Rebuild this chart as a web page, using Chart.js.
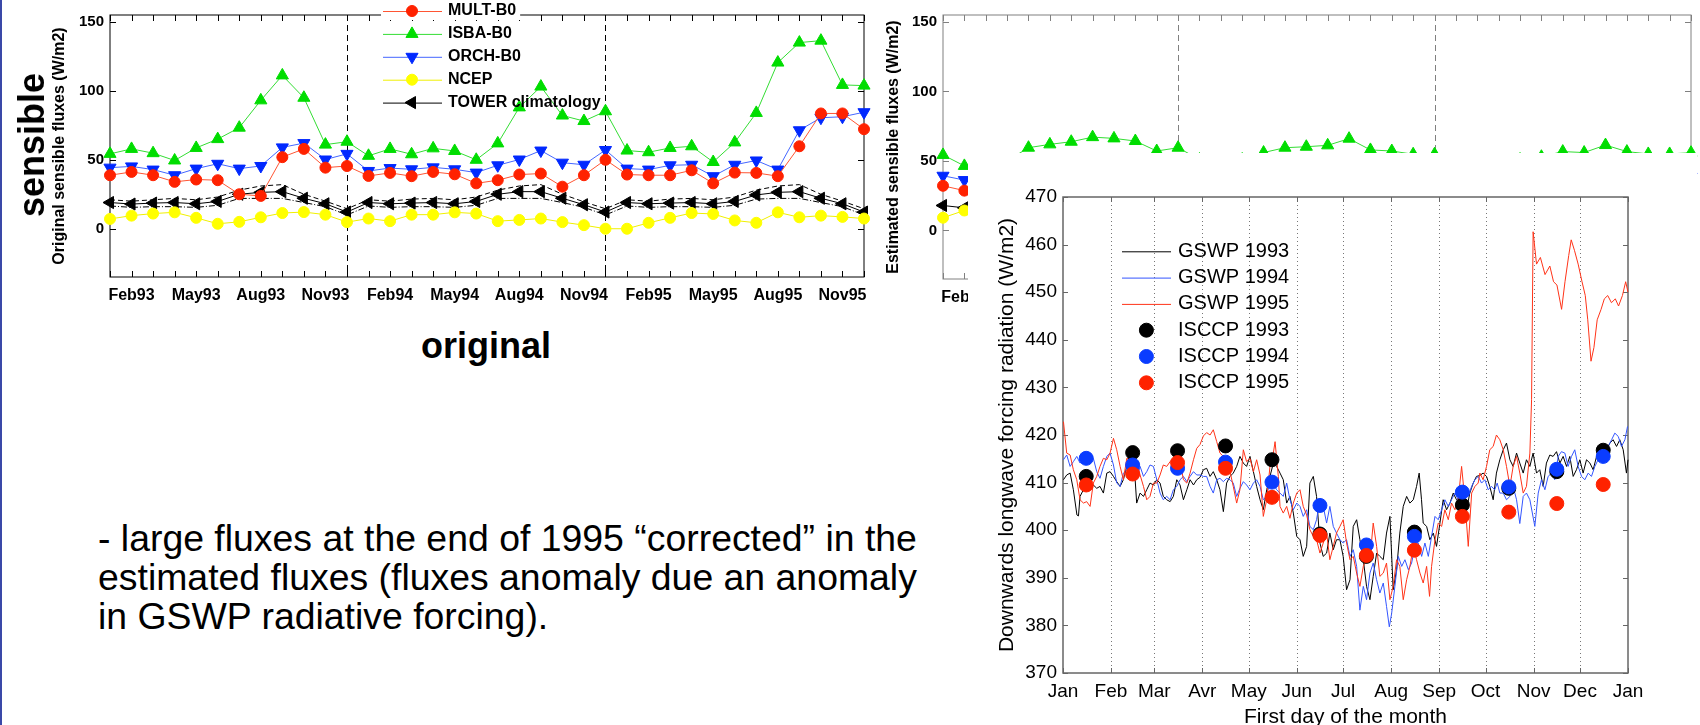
<!DOCTYPE html>
<html>
<head>
<meta charset="utf-8">
<script src="https://cdn.jsdelivr.net/npm/chart.js@4.4.0/dist/chart.umd.min.js"></script>
<style>
  html, body { margin: 0; padding: 0; background: #fff; }
  #page { position: relative; width: 1700px; height: 725px; overflow: hidden; background: #fff;
          font-family: "Liberation Sans", Arial, sans-serif; color: #000; }
  .abs { position: absolute; }
  #border { left: 0; top: 0; width: 2px; height: 725px; background: #3a48a8; }
  #cOrig { left: 0; top: 0; }
  #cEst { left: 870px; top: 0; }
  #radWrap { left: 968px; top: 153px; width: 729px; height: 572px; background: #fff; overflow: hidden; }
  #sensible { left: 32px; top: 145px; transform: translate(-50%, -50%) rotate(-90deg);
              font-weight: bold; font-size: 36px; line-height: 36px; white-space: nowrap; }
  #original { left: 421px; top: 328px; font-weight: bold; font-size: 36px; line-height: 36px; white-space: nowrap; }
  #note { left: 98px; top: 519px; font-size: 37.4px; line-height: 39px; white-space: nowrap; }
</style>
</head>
<body>
<div id="page">
  <canvas id="cOrig" class="abs" width="880" height="310"></canvas>
  <canvas id="cEst" class="abs" width="830" height="310"></canvas>
  <div id="radWrap" class="abs"><canvas id="cRad" width="729" height="577"></canvas></div>
  <div id="sensible" class="abs">sensible</div>
  <div id="original" class="abs">original</div>
  <div id="note" class="abs">- large fluxes at the end of 1995 “corrected” in the<br>estimated fluxes (fluxes anomaly due an anomaly<br>in GSWP radiative forcing).</div>
  <div id="border" class="abs"></div>
</div>
<script>
// ---- monthly sensible fluxes, Jan93 .. Dec95 ----
const months = ['Jan93','Feb93','Mar93','Apr93','May93','Jun93','Jul93','Aug93','Sep93','Oct93','Nov93','Dec93',
                'Jan94','Feb94','Mar94','Apr94','May94','Jun94','Jul94','Aug94','Sep94','Oct94','Nov94','Dec94',
                'Jan95','Feb95','Mar95','Apr95','May95','Jun95','Jul95','Aug95','Sep95','Oct95','Nov95','Dec95'];
const fluxTicks = [0, 50, 100, 150];
const yearBreaks = [11, 23];

const multB0 = [38.8,41.2,38.8,34,35.7,35.2,25,23.8,51.9,57.9,44.3,45.5,38.3,40.5,38.1,41.2,39.5,32.9,
                35.2,39.3,40,30.5,38.8,50,39.3,38.8,38.8,42.4,32.9,40.7,40.5,38.1,59.8,83.6,83.6,72.2];
const isbaB0 = [54.3,57.9,54.8,49.5,58.6,65,73.3,93.1,111.2,95,61,63.1,52.9,57.9,54,58.3,56.4,50,
                61.9,88,103.1,82.1,78.1,85.2,56.7,55.5,58.6,59.8,48.4,62.6,84,120.5,135,136.4,104.3,103.8];
const orchB0 = [44.3,45.2,42.9,38.8,43.6,47.1,43.6,45.5,59,62.1,50.2,54.3,41.9,44,43.1,44.5,43.1,40.7,
                46,50.2,56.7,47.9,46.4,57.1,43.6,42.9,46,46.4,38.1,46.4,49.5,42.9,71.4,80.5,81.2,84.5];
const ncep   = [7.1,9.5,11,11.9,7.9,3.6,5,8.3,11.4,12.1,10.2,4.8,7.4,5.5,10.2,10.2,11.9,11,
                5.5,6.4,7.4,4.8,2.6,0,0,4.3,7.9,11.4,10.7,6,4.3,11.9,8.3,9.5,8.6,7.4];
const tower  = [19,17.9,18.6,19,18.1,19.8,25,26.4,26.9,22.1,18.1,12.1,19,18.1,18.6,19,18.1,19.8,
                25,26.9,26.9,22.1,17.4,12.1,19,18.1,18.6,19,18.1,19.8,24.5,26.4,26.9,22.1,18.1,12.1];
const towerHigh = [21,20,21,22,21,23,28,31,32,25,20,14.5,21,20,21.5,22,21,23,28,31,32,25,19.5,14.5,
                   21,20,21.5,22,21,23,28,31,32,25,20,14.5];
const towerLow  = [16.5,15.5,16,16,15.5,17,22,22,22,19,16,10,16.5,15.5,16,16,15.5,17,22,22,22,19,15.5,10,
                   16.5,15.5,16,16,15.5,17,21.5,22,22,19,16,10];

// estimated fluxes: only the parts that are not hidden by the radiation panel
const estIsba  = [54.3,46.4,48,50,59.5,61.9,63.8,67.1,66.2,64.3,57.1,59.5,51,49,51,56,59.5,60.2,
                  61.2,66,57.9,57.1,54.8,54.8,50,48,50,51,53,56.7,56,61.4,56.7,55,55,55.9];
const estOrch  = [39.3,36.2,null,null,null,null,null,null,null,null,null,null,null,null,null,null,null,null,
                  null,null,null,null,null,null,null,null,null,null,null,null,null,null,null,null,null,38.6];
const estMult  = [32.1,28.6,null,null,null,null,null,null,null,null,null,null,null,null,null,null,null,null,
                  null,null,null,null,null,null,null,null,null,null,null,null,null,null,null,null,null,32];
const estNcep  = [9.1,14.3,null,null,null,null,null,null,null,null,null,null,null,null,null,null,null,null,
                  null,null,null,null,null,null,null,null,null,null,null,null,null,null,null,null,null,15];
const estTower = [17.9,16.2,null,null,null,null,null,null,null,null,null,null,null,null,null,null,null,null,
                  null,null,null,null,null,null,null,null,null,null,null,null,null,null,null,null,null,12.1];

// ---- downward longwave forcing, [day of year, W/m2] ----
const monthStart = [0,31,59,90,120,151,181,212,243,273,304,334,365];
const monthNames = ['Jan','Feb','Mar','Avr','May','Jun','Jul','Aug','Sep','Oct','Nov','Dec','Jan'];
const radTicks = [370,380,390,400,410,420,430,440,450,460,470];

const gswp1993 = [[0.3,410.6],[2.4,411.6],[4.6,412],[6.7,408.5],[9,403.2],[10,403],[11,407.1],[13.2,408.5],[15.3,409.2],[17.5,408.5],
  [19.6,409.5],[21.8,408.8],[23.9,409.2],[26.1,407.8],[28.3,412],[30.4,412.3],[32.6,411.3],[34.7,410.2],[36.9,409.2],[39,410.6],
  [41.2,413.4],[43.3,416.9],[45.5,416.2],[47.6,405.7],[49.8,407.8],[52,407.1],[54.1,408.5],[56.2,409.9],[58.4,409.5],[60.6,410.6],
  [62.7,409.9],[64.8,407.1],[67,406.4],[69.2,406],[71.3,407.1],[73.5,410.6],[75.6,409.5],[77.8,406.4],[80,408.5],[82.1,410.6],
  [84.3,409.5],[86.4,410.6],[88.5,411.1],[90.7,412.7],[92.8,413],[95,411.3],[97.1,412.3],[99.3,410.6],[101.4,408.5],[103.6,403.9],
  [105.7,409.9],[107.9,411.3],[110,412],[112.2,413.4],[114.3,415.5],[116.5,414.1],[118.6,413.4],[120.8,415.5],[123,412.3],[125.1,409.2],
  [127.3,406.4],[129.4,404.3],[131.6,408.5],[133.7,411.3],[135.9,414.1],[138,413.4],[140.2,412],[142.3,410.6],[144.5,405.7],[146.6,407.1],
  [148.8,403.6],[151,398.7],[153.1,398],[155.2,394.5],[157.4,396.6],[159.5,409.9],[161.7,411.3],[163.8,407.1],[166,397.3],[168.1,394.5],
  [170.3,395.2],[172.4,399.4],[174.6,395.9],[176.7,398],[178.9,398],[181,394.5],[183.2,387.5],[185.4,389.6],[187.5,400.8],[189.7,402.2],
  [191.8,398],[194,393.8],[196.1,388.2],[198.3,385.4],[200.4,390.3],[202.6,395.2],[204.7,394.5],[206.9,393.8],[209,399.4],[211.2,402.9],
  [213.3,387.5],[215.5,391.7],[217.6,399.4],[219.8,405],[222,407.1],[224.1,405.7],[226.3,406.4],[228.4,409.2],[230.1,412],[231.6,406.4],
  [232.7,401.5],[234.9,400.8],[237,398],[239.2,399.4],[241.3,396.6],[243.5,401.5],[245.6,406.4],[247.8,404.3],[250,405.7],[252.1,407.8],
  [254.2,406.4],[256.4,407.1],[258.5,406.4],[260.7,404.3],[262.8,407.8],[265,409.9],[267.1,411.3],[269.3,411.5],[271.4,412],[273.6,411.3],
  [275.7,409.2],[277.9,406.4],[280,412],[282.2,414.8],[284.4,416.9],[286.5,418.3],[288.7,414.8],[290.8,413.4],[293,416.2],[295.1,414.1],
  [297.3,412],[299.4,414.8],[301.6,413.4],[303.7,416.2],[305.9,412],[308,412.7],[310.2,409.2],[312.3,414.1],[314.5,415.8],[316.6,415.5],
  [318.8,416.5],[321,414.1],[323.1,415.5],[325.3,413.4],[327.4,415.5],[329.6,411.3],[331.7,412.7],[333.9,414.8],[336,412],[338.2,414.8],
  [340.4,414.1],[342.5,412.7],[344.7,415.5],[346.8,416.9],[349,417.6],[351.1,416.9],[353.3,418.3],[355.4,419],[357.6,417.6],[359.7,419],
  [361.9,416.9],[364,412],[365,414.8]];

const gswp1994 = [[0.3,414.8],[2.4,415.8],[4.6,413.4],[6.7,414.4],[8.9,415.5],[11,414.1],[13.2,414.8],[15.3,413.7],[17.5,414.8],[19.6,415.1],
  [21.8,412.3],[23.9,410.9],[26.1,413.4],[28.3,415.5],[30.4,416.2],[32.6,413.7],[34.7,409.9],[36.9,409.2],[39,412],[41.2,412.7],
  [43.3,414.8],[45.5,413.4],[47.6,410.6],[49.8,413.4],[52,411.3],[54.1,412.3],[56.2,413.7],[58.4,413.4],[60.6,410.6],[62.7,407.8],
  [64.8,406.4],[67,407.1],[69.2,406.4],[71.3,408.5],[73.5,409.2],[75.6,410.6],[77.8,411.3],[80,410.2],[82.1,411.3],[84.3,412.3],
  [86.4,411.6],[88.5,411.6],[90.7,411.3],[92.8,411.3],[95,409.2],[97.1,407.8],[99.3,410.6],[101.4,410.9],[103.6,410.2],[105.7,410.9],
  [107.9,410.6],[110,409.9],[112.2,407.1],[114.3,408.8],[116.5,410.2],[118.6,409.5],[120.8,408.5],[123,409.9],[125.1,410.6],[127.3,409.2],
  [129.4,406.4],[131.6,407.1],[133.7,410.6],[135.9,409.9],[138,408.5],[140.2,407.8],[142.3,407.1],[144.5,409.9],[146.6,406.4],[148.8,404.3],
  [151,405.7],[153.1,405],[155.2,402.9],[157.4,404.3],[159.5,400.8],[161.7,400.1],[163.8,402.2],[166,406.4],[168.1,405],[170.3,401.5],
  [172.4,405],[174.6,400.8],[176.7,399.4],[178.9,398],[181,397.3],[183.2,398],[185.4,394.5],[187.5,395.9],[189.7,392.4],[191.8,383.2],
  [194,388.2],[196.1,385.4],[198.3,391],[200.4,393.1],[202.6,389.6],[204.7,386.8],[206.9,388.9],[209,384],[210.8,379.7],[212.3,382.5],
  [214.4,388.2],[216.6,394.5],[218.8,392.4],[220.9,393.8],[223.1,391.7],[225.2,393.1],[227.4,396.6],[229.5,397.3],[231.7,394.5],[233.8,397.3],
  [236,394.5],[238.1,398.7],[240.3,402.9],[242.4,402.2],[244.6,404.3],[246.7,406.4],[248.9,405],[251,406.4],[253.2,407.8],[255.3,406.4],
  [257.5,408.5],[259.6,407.8],[261.8,407.1],[264,409.2],[266.1,410.6],[268.2,411.3],[270.4,409.9],[272.5,410.6],[274.7,408.5],[276.8,409.2],
  [278.9,408.5],[280.5,409.9],[282.2,407.8],[284.4,407.8],[286.5,406.4],[288.7,407.1],[290.8,409.2],[293,406.4],[295.1,401.4],[297.3,407.1],
  [299.4,407.8],[301.6,406.4],[304.8,400.8],[307,407.8],[309.1,410.6],[311.3,408.5],[313.4,411.3],[315.6,412],[317.7,410.6],[319.9,415.5],
  [322,416.5],[324.2,416.2],[326.3,413.4],[328.5,415.5],[330.6,416.9],[332.8,413.4],[335,411.3],[337.1,410.6],[339.3,412],[341.4,411.3],
  [343.6,413.4],[345.7,414.8],[347.9,415.5],[350,416.2],[352.2,417.6],[354.4,419],[356.5,420.4],[358.7,419.7],[360.8,417.6],[363,419],
  [364.7,421.8]];

const gswp1995 = [[0.3,422.8],[2.4,416.2],[4.6,415.8],[6.7,412.7],[8.9,410.6],[11,406.4],[13.2,405.7],[15.3,406],[17.5,405],[19.6,409.9],
  [21.8,411.3],[23.9,413.4],[26.1,415.1],[28.3,414.8],[30.4,416.2],[32.6,419.3],[34.7,416.9],[36.9,413.4],[39,410.6],[41.2,415.1],
  [43.3,414.8],[45.5,413],[47.6,414.1],[49.8,411.6],[52,409.2],[54.1,406.4],[56.2,407.1],[58.4,409.9],[60.6,409.9],[62.7,411.6],
  [64.8,413.7],[67,413.4],[69.2,414.4],[71.3,415.1],[73.5,413.4],[75.6,414.4],[77.8,410.6],[80,409.9],[82.1,412],[84.3,414.8],
  [86.4,417.2],[88.5,418],[90.7,419.8],[92.8,420.5],[95,420],[97.1,421.1],[99.3,418.6],[101.4,416.2],[103.6,415.5],[105.7,413.4],
  [107.9,412.3],[110,409.2],[112.2,405.7],[114.3,408.5],[116.5,416.9],[118.6,414.4],[120.8,415.1],[123,412.3],[125.1,414.8],[127.3,411.6],
  [129.4,402.9],[131.6,406.4],[133.7,413.4],[135.9,416.2],[137,418.6],[139.1,411.3],[140.2,405],[142.3,403.6],[144.5,405],[146.6,402.5],
  [148.8,405.7],[151,407.8],[153.1,408.5],[155.2,405],[157.4,403.2],[159.5,400.1],[161.7,398.7],[163.8,398],[166,395.2],[168.1,397.3],
  [170.3,399.4],[172.4,393.8],[174.6,396.6],[176.7,399.4],[178.9,400.8],[181,402.2],[183.2,397.3],[185.4,393.8],[187.5,394.5],[189.7,391],
  [191.8,388.2],[194,392.4],[196.1,393.8],[198.3,393.8],[200.4,401.5],[202.6,396.6],[204.7,390.3],[206.9,391],[209,393.1],[211.2,385.4],
  [213.3,388.2],[215.5,393.8],[217.6,392.4],[219.8,385.4],[222,389.6],[224.1,392.4],[226.3,396.6],[228.4,393.8],[230.6,391],[232.7,388.9],
  [234.9,392.4],[236.8,386.1],[238.1,392.4],[240.3,398],[242.4,401.5],[244.6,400.8],[246.7,404.3],[248.9,402.2],[251,405.7],[253.2,404.3],
  [255.3,406.4],[257.5,413.4],[259.6,406.4],[261.8,396.6],[264,407.8],[266.1,409.2],[268.2,409.9],[269.3,412],[271.4,410.6],[273.6,413.4],
  [275.7,416.9],[277.9,417.6],[280,420],[282.2,419],[284.4,416.9],[286.5,413.4],[288.7,409.2],[290.8,413.4],[293,415.5],[295.1,412],
  [297.3,407.8],[299.4,409.2],[301.6,416.2],[302.7,427.4],[303.7,462.7],[305.9,455.9],[308.4,457.3],[311.4,453.7],[314.5,455.5],[316.9,452.2],
  [319.1,451.5],[322.1,446.4],[324.3,452.2],[326.7,457.7],[328.3,461],[330.4,458.8],[332.8,455.9],[335.3,452.2],[337.4,449.3],[339,444.2],
  [341.1,435.5],[343,438.4],[345.1,444.2],[347.6,446.4],[349.7,448.6],[351.9,449.3],[354.3,447.8],[356.8,448.6],[358.9,447.1],[361.4,449.3],
  [363.5,452.2],[365,450]];

const isccpDays = [15,45,74,105,135,166,196,227,258,288,319,349];
const isccp1993 = [411.3,416.3,416.7,417.7,414.8,399.2,394.5,399.6,405.3,408.8,412.3,416.8];
const isccp1994 = [415.1,413.7,413,414.3,410.1,405.2,396.9,398.7,408,409.1,412.8,415.5];
const isccp1995 = [409.5,411.8,414.2,413,406.9,398.9,394.7,395.8,402.9,403.8,405.6,409.6];

const FONT = '"Liberation Sans", Arial, sans-serif';
Chart.defaults.font.family = FONT;
Chart.defaults.color = '#000';
Chart.defaults.animation = false;

// frame, inward ticks, vertical guide lines and a hand placed legend
const deco = {
  id: 'deco',
  beforeDatasetsDraw(chart, args, o) {
    const ctx = chart.ctx, a = chart.chartArea, xs = chart.scales.x, ys = chart.scales.y;
    ctx.save();
    ctx.lineWidth = 1;
    ctx.strokeStyle = o.vColor;
    ctx.setLineDash(o.vDash || []);
    (o.vLines || []).forEach(v => {
      const px = Math.round(xs.getPixelForValue(v)) + 0.5;
      ctx.beginPath(); ctx.moveTo(px, a.top); ctx.lineTo(px, a.bottom); ctx.stroke();
    });
    ctx.setLineDash([]);
    ctx.strokeStyle = o.frame;
    ctx.beginPath();
    xs.ticks.forEach(t => {
      const px = Math.round(xs.getPixelForValue(t.value)) + 0.5;
      ctx.moveTo(px, a.top); ctx.lineTo(px, a.top + o.tickLen);
      ctx.moveTo(px, a.bottom); ctx.lineTo(px, a.bottom - o.tickLen);
    });
    ys.ticks.forEach(t => {
      const py = Math.round(ys.getPixelForValue(t.value)) + 0.5;
      ctx.moveTo(a.left, py); ctx.lineTo(a.left + o.tickLen, py);
      ctx.moveTo(a.right, py); ctx.lineTo(a.right - o.tickLen, py);
    });
    ctx.stroke();
    ctx.lineWidth = o.frameWidth;
    ctx.strokeRect(a.left, a.top, a.width, a.height);
    ctx.restore();
  },
  afterDraw(chart, args, o) {
    const L = o.legend;
    if (!L) return;
    const ctx = chart.ctx;
    ctx.save();
    ctx.font = L.font;
    ctx.textBaseline = 'middle';
    let row = 0;
    chart.data.datasets.forEach(ds => {
      if (ds.noLegend) return;
      const y = L.y0 + row * L.dy;
      if (row === 0 && L.clearFirst) {
        ctx.fillStyle = '#fff';
        ctx.fillRect(L.x0 - 2, y - 9, L.tx - L.x0 + ctx.measureText(ds.label).width + 6, 18);
      }
      if (ds.showLine !== false) {
        ctx.strokeStyle = ds.borderColor; ctx.lineWidth = 1;
        ctx.beginPath(); ctx.moveTo(L.x0, y + 0.5); ctx.lineTo(L.x1, y + 0.5); ctx.stroke();
      }
      if (ds.pointRadius > 0) {
        ctx.fillStyle = ds.pointBackgroundColor; ctx.strokeStyle = ds.pointBorderColor;
        Chart.helpers.drawPoint(ctx, { pointStyle: ds.pointStyle, rotation: ds.pointRotation || 0,
                                       radius: ds.pointRadius, borderWidth: 1 }, L.mx, y);
      }
      ctx.fillStyle = '#000';
      ctx.fillText(ds.label, L.tx, y);
      row++;
    });
    ctx.restore();
  }
};
Chart.register(deco);

function fluxSet(label, data, color, lineColor, style, rot, r, extra) {
  return Object.assign({
    label: label, data: data, borderColor: lineColor, borderWidth: 1,
    pointBackgroundColor: color, pointBorderColor: color, pointStyle: style,
    pointRotation: rot, pointRadius: r, tension: 0, clip: false
  }, extra || {});
}

function makeFluxChart(canvasId, sets, opts) {
  return new Chart(document.getElementById(canvasId), {
    type: 'line',
    data: { labels: months, datasets: sets },
    options: {
      responsive: false, devicePixelRatio: 1, events: [],
      layout: { padding: { left: 0, right: opts.padRight, top: opts.top, bottom: 0 } },
      scales: {
        x: {
          type: 'category', offset: false,
          grid: { display: false, drawTicks: false }, border: { display: false },
          afterFit: s => { s.height = opts.xHeight; },
          ticks: { autoSkip: false, maxRotation: 0, padding: 9,
                   font: { size: 16, weight: 'bold' },
                   callback: (v, i) => (i % 3 === 1 ? months[i] : '') }
        },
        y: {
          min: -35, max: 155,
          grid: { display: false, drawTicks: false }, border: { display: false },
          afterBuildTicks: s => { s.ticks = fluxTicks.map(v => ({ value: v })); },
          afterFit: s => { s.width = opts.yWidth; },
          ticks: { padding: 6, font: { size: 15, weight: 'bold' } },
          title: { display: true, text: opts.yTitle, font: { size: 16, weight: 'bold' },
                   padding: { top: opts.titlePad, bottom: 0 } }
        }
      },
      plugins: {
        legend: { display: false }, tooltip: { enabled: false },
        deco: { frame: opts.frame, frameWidth: 1, tickLen: 6, vLines: yearBreaks,
                vColor: opts.frame, vDash: [6, 4], legend: opts.legend }
      }
    }
  });
}

const RED = '#ff2200', GREEN = '#00dd00', BLUE = '#0028ff', YEL = '#ffff00';

makeFluxChart('cOrig', [
  fluxSet('MULT-B0', multB0, RED, '#ff5533', 'circle', 0, 5.5),
  fluxSet('ISBA-B0', isbaB0, GREEN, '#33dd33', 'triangle', 0, 7),
  fluxSet('ORCH-B0', orchB0, BLUE, '#4466ff', 'triangle', 180, 7),
  fluxSet('NCEP', ncep, YEL, '#f0f000', 'circle', 0, 5.5),
  fluxSet('TOWER climatology', tower, '#000', '#000', 'triangle', -90, 7),
  fluxSet('high', towerHigh, '#000', '#000', 'circle', 0, 0, { noLegend: true, borderDash: [5, 3] }),
  fluxSet('low', towerLow, '#000', '#000', 'circle', 0, 0, { noLegend: true, borderDash: [6, 2, 1, 2] })
], { padRight: 16, top: 11, xHeight: 33, yWidth: 110, titlePad: 50,
     yTitle: 'Original sensible fluxes (W/m2)', frame: '#000',
     legend: { x0: 383, x1: 442, mx: 412, tx: 448, y0: 11, dy: 22.9,
               font: 'bold 16px ' + FONT, clearFirst: true } });

makeFluxChart('cEst', [
  fluxSet('MULT-B0', estMult, RED, '#ff5533', 'circle', 0, 5.5),
  fluxSet('ISBA-B0', estIsba, GREEN, '#33dd33', 'triangle', 0, 7),
  fluxSet('ORCH-B0', estOrch, BLUE, '#4466ff', 'triangle', 180, 7),
  fluxSet('NCEP', estNcep, YEL, '#f0f000', 'circle', 0, 5.5),
  fluxSet('TOWER climatology', estTower, '#000', '#000', 'triangle', -90, 7)
], { padRight: 4, top: 13, xHeight: 31, yWidth: 73, titlePad: 13.7,
     yTitle: 'Estimated sensible fluxes (W/m2)', frame: '#808080', legend: null });

// ---- radiation panel ----
const xy = arr => arr.map(p => ({ x: p[0], y: p[1] }));
const dots = vals => vals.map((v, i) => ({ x: isccpDays[i], y: v }));
const gswpSet = (label, arr, color, order) => ({
  label: label, data: xy(arr), borderColor: color, borderWidth: 1, pointRadius: 0,
  tension: 0, order: order, clip: false
});
const isccpSet = (label, vals, color, order) => ({
  label: label, data: dots(vals), showLine: false, pointRadius: 7, pointStyle: 'circle',
  pointBackgroundColor: color, pointBorderColor: color, order: order, clip: false
});

new Chart(document.getElementById('cRad'), {
  type: 'line',
  data: { datasets: [
    gswpSet('GSWP 1993', gswp1993, '#000000', 6),
    gswpSet('GSWP 1994', gswp1994, '#3355ff', 5),
    gswpSet('GSWP 1995', gswp1995, '#ff3318', 4),
    isccpSet('ISCCP 1993', isccp1993, '#000000', 3),
    isccpSet('ISCCP 1994', isccp1994, '#0a3cff', 2),
    isccpSet('ISCCP 1995', isccp1995, '#ff2200', 1)
  ] },
  options: {
    responsive: false, devicePixelRatio: 1, events: [],
    layout: { padding: { left: 0, right: 69, top: 44, bottom: 0 } },
    scales: {
      x: {
        type: 'linear', min: 0, max: 365,
        grid: { display: false, drawTicks: false }, border: { display: false },
        afterBuildTicks: s => { s.ticks = monthStart.map(v => ({ value: v })); },
        afterFit: s => { s.height = 57; },
        ticks: { padding: 7, maxRotation: 0, autoSkip: false, font: { size: 19 },
                 callback: v => monthNames[monthStart.indexOf(v)] },
        title: { display: true, text: 'First day of the month', font: { size: 21 },
                 padding: { top: 0, bottom: 0 } }
      },
      y: {
        min: 370, max: 470,
        grid: { display: false, drawTicks: false }, border: { display: false },
        afterBuildTicks: s => { s.ticks = radTicks.map(v => ({ value: v })); },
        afterFit: s => { s.width = 95; },
        ticks: { padding: 6, font: { size: 19 } },
        title: { display: true, text: 'Downwards longwave forcing radiation (W/m2)', font: { size: 21 },
                 padding: { top: 26.6, bottom: 0 } }
      }
    },
    plugins: {
      legend: { display: false }, tooltip: { enabled: false },
      deco: { frame: '#666', frameWidth: 1.5, tickLen: 5, vLines: monthStart.slice(1, 12),
              vColor: '#777', vDash: [1, 3],
              legend: { x0: 154, x1: 203, mx: 178.4, tx: 210, y0: 98.3, dy: 26.3,
                        font: '20px ' + FONT } }
    }
  }
});
</script>
</body>
</html>
